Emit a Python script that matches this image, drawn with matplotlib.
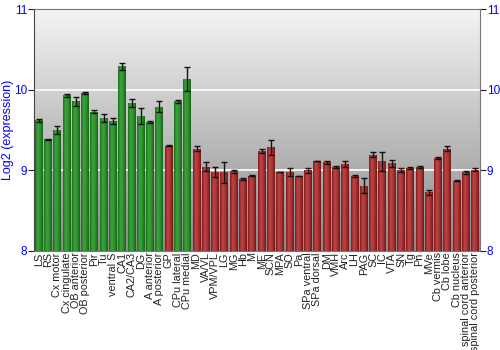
import numpy as np
import matplotlib
matplotlib.use("Agg")
import matplotlib.pyplot as plt
from matplotlib.colors import LinearSegmentedColormap

plt.rcParams["font.family"] = ["Liberation Sans", "DejaVu Sans"]

regions = ["LS", "RS", "Cx motor", "Cx cingulate", "OB anterior", "OB posterior",
           "Pir", "Tu", "ventral S", "CA1", "CA2/CA3", "DG", "A anterior",
           "A posterior", "GP", "CPu lateral", "CPu medial", "MD", "VA/VL",
           "VPM/VPL", "LG", "MG", "Hb", "M", "ME", "SCN", "MPA", "SO", "Pa",
           "SPa ventral", "SPa dorsal", "DM", "VMH", "Arc", "LH", "PAG", "SC",
           "IC", "VTA", "SN", "Tg", "Pn", "MVe", "Cb vermis", "Cb lobe",
           "Cb nucleus", "spinal cord anterior", "spinal cord posterior"]

valeurs = [9.62, 9.385, 9.50, 9.93, 9.855, 9.96, 9.726, 9.647, 9.614, 10.29,
           9.83, 9.676, 9.60, 9.79, 9.305, 9.855, 10.13, 9.27, 9.046, 8.98,
           8.975, 8.99, 8.89, 8.935, 9.24, 9.286, 8.98, 8.98, 8.93, 9.0,
           9.116, 9.10, 9.04, 9.08, 8.93, 8.81, 9.195, 9.11, 9.087, 9.004,
           9.03, 9.04, 8.726, 9.15, 9.266, 8.87, 8.975, 9.01]

erreurs = [0.015, 0.005, 0.05, 0.015, 0.06, 0.01, 0.02, 0.05, 0.04, 0.04,
           0.05, 0.10, 0.01, 0.07, 0.005, 0.02, 0.15, 0.03, 0.06, 0.06,
           0.13, 0.02, 0.01, 0.01, 0.03, 0.09, 0.003, 0.05, 0.005, 0.03,
           0.005, 0.02, 0.01, 0.04, 0.01, 0.09, 0.03, 0.12, 0.04, 0.03,
           0.01, 0.01, 0.03, 0.015, 0.03, 0.005, 0.02, 0.02]

# groupe : 1 = vert, 0 = rouge
groupe = [1] * 14 + [0] + [1, 1] + [0] * 31

fig = plt.figure(figsize=(5, 3.5), dpi=100)
ax = fig.add_axes([0.068, 0.283, 0.892, 0.691])

n = len(regions)
x = np.arange(n)
ymin, ymax = 8, 11

# fond en dégradé
fond = LinearSegmentedColormap.from_list("fond", ["#8a8a8a", "#f4f4f4"])
grad = np.linspace(0, 1, 256).reshape(-1, 1)
ax.imshow(grad, cmap=fond, aspect="auto", origin="lower",
          extent=[-0.5, n - 0.5, ymin, ymax], zorder=0)

for yg in [9, 10]:
    ax.axhline(yg, color="white", lw=1.2, zorder=1)

vert = LinearSegmentedColormap.from_list("vert", ["#1f6e1f", "#3aa63a", "#2f8f2f", "#1c621c"])
rouge = LinearSegmentedColormap.from_list("rouge", ["#7a1c1c", "#c24444", "#a83434", "#701818"])
hgrad = np.linspace(0, 1, 64).reshape(1, -1)

largeur = 0.86
for i in range(n):
    cmap = vert if groupe[i] else rouge
    barre = ax.bar(x[i], valeurs[i] - ymin, bottom=ymin, width=largeur,
                   color="none", edgecolor="none", zorder=2)[0]
    im = ax.imshow(hgrad, cmap=cmap, aspect="auto",
                   extent=[x[i] - largeur / 2, x[i] + largeur / 2, ymin, valeurs[i]],
                   zorder=2)
    im.set_clip_path(barre)

ax.errorbar(x, valeurs, yerr=erreurs, fmt="none", ecolor="#111111",
            elinewidth=1, capsize=2, capthick=1, zorder=3)

ax.set_xlim(-0.5, n - 0.5)
ax.set_ylim(ymin, ymax)
ax.set_yticks([8, 9, 10, 11])
ax.tick_params(axis="y", colors="#222222", labelcolor="blue", labelsize=8.5,
               length=4, pad=1, right=True, labelright=True)
ax.set_xticks(x)
ax.set_xticklabels(regions, rotation=90, fontsize=7.8, color="#222222")
ax.tick_params(axis="x", length=0, pad=1)
ax.set_ylabel("Log2 (expression)", color="blue", fontsize=9, labelpad=0)

for s in ax.spines.values():
    s.set_color("#777777")
ax.spines["left"].set_color("#444444")

fig.savefig("out.png", dpi=100)
